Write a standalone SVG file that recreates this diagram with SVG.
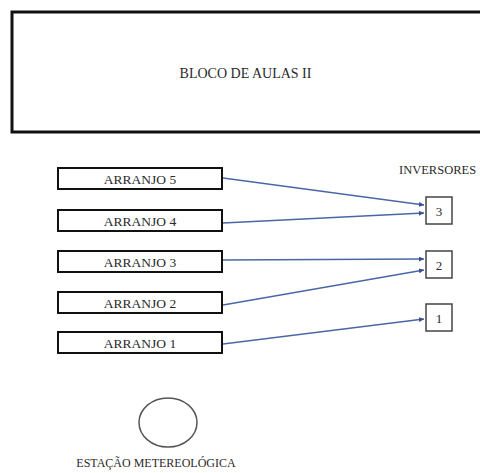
<svg xmlns="http://www.w3.org/2000/svg" width="480" height="473" viewBox="0 0 480 473">
<style>
.t{fill:#2a2a2a}
.arr{fill:#fff;stroke:#111;stroke-width:2}
.inv{fill:#fff;stroke:#444;stroke-width:1.5}
.lbl{font-size:13.5px;text-anchor:middle}
.con{stroke:#4a66a8;stroke-width:1.3;fill:none;marker-end:url(#ah)}
</style>
<defs>
<marker id="ah" viewBox="0 0 10 10" refX="10" refY="5" markerWidth="5" markerHeight="5" markerUnits="userSpaceOnUse" orient="auto">
<path d="M0,0L10,5L0,10z" fill="#3a4f90"/>
</marker>
</defs>
<rect width="480" height="473" fill="#fff"/>
<g id="bloco">
<rect x="12" y="12" width="480" height="120" fill="#fff" stroke="#111" stroke-width="3"/>
<text class="t" font-family="Liberation Serif, DejaVu Serif, serif" x="245.5" y="78" font-size="14" text-anchor="middle">BLOCO DE AULAS II</text>
</g>
<g id="arranjo5"><rect class="arr" x="58" y="168" width="164" height="21"/><text class="t lbl" font-family="Liberation Serif, DejaVu Serif, serif" x="140" y="183.5">ARRANJO 5</text></g>
<g id="arranjo4"><rect class="arr" x="58" y="210" width="164" height="21"/><text class="t lbl" font-family="Liberation Serif, DejaVu Serif, serif" x="140" y="225.5">ARRANJO 4</text></g>
<g id="arranjo3"><rect class="arr" x="58" y="251" width="164" height="21"/><text class="t lbl" font-family="Liberation Serif, DejaVu Serif, serif" x="140" y="266.5">ARRANJO 3</text></g>
<g id="arranjo2"><rect class="arr" x="58" y="292" width="164" height="21"/><text class="t lbl" font-family="Liberation Serif, DejaVu Serif, serif" x="140" y="307.5">ARRANJO 2</text></g>
<g id="arranjo1"><rect class="arr" x="58" y="332" width="164" height="21"/><text class="t lbl" font-family="Liberation Serif, DejaVu Serif, serif" x="140" y="347.5">ARRANJO 1</text></g>
<g id="inversores-label"><text class="t" font-family="Liberation Serif, DejaVu Serif, serif" x="399" y="174" font-size="12.5">INVERSORES</text></g>
<g id="inversor3"><rect class="inv" x="426" y="197" width="26" height="27"/><text class="t" font-family="Liberation Serif, DejaVu Serif, serif" x="439" y="215.5" font-size="13" text-anchor="middle">3</text></g>
<g id="inversor2"><rect class="inv" x="426" y="251" width="26" height="27"/><text class="t" font-family="Liberation Serif, DejaVu Serif, serif" x="439" y="269.5" font-size="13" text-anchor="middle">2</text></g>
<g id="inversor1"><rect class="inv" x="426" y="304" width="26" height="27"/><text class="t" font-family="Liberation Serif, DejaVu Serif, serif" x="439" y="322.5" font-size="13" text-anchor="middle">1</text></g>
<g id="estacao">
<ellipse cx="168" cy="422.5" rx="29" ry="24.5" fill="#fff" stroke="#555" stroke-width="1.5"/>
<text class="t" font-family="Liberation Serif, DejaVu Serif, serif" x="156" y="467" font-size="12" text-anchor="middle">ESTAÇÃO METEREOLÓGICA</text>
</g>
<g id="connectors">
<path class="con" d="M223,178L424,205"/>
<path class="con" d="M223,223L424,213"/>
<path class="con" d="M223,260L424,259"/>
<path class="con" d="M223,305L424,270"/>
<path class="con" d="M223,344L424,319"/>
</g>
</svg>
